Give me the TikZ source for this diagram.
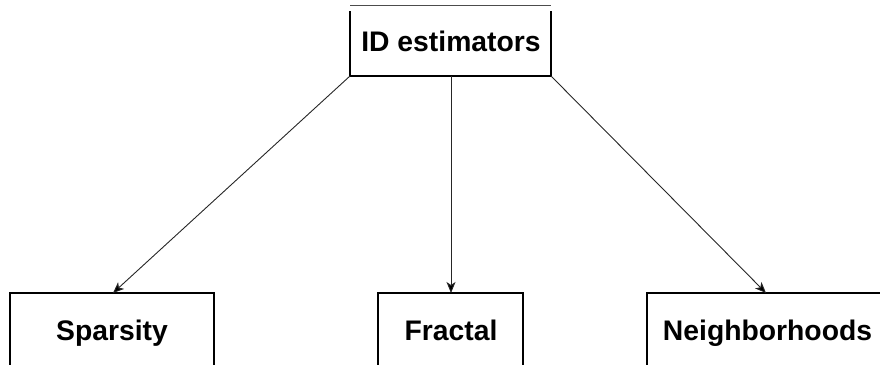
\documentclass[tikz,border=0pt]{standalone}
\usepackage{fontspec}
\setmainfont{Liberation Sans}
\usetikzlibrary{arrows.meta}
\begin{document}
\begin{tikzpicture}[x=1pt,y=-1pt,
  boxline/.style={draw=black,line width=1.1pt},
  lbl/.style={font=\fontsize{28.3}{34}\selectfont\bfseries,inner sep=0pt,anchor=base},
  conn/.style={draw=black!85,line width=0.9pt,-{Stealth[length=11pt,width=9pt,inset=3pt,fill=black]}}]
\useasboundingbox (0,0) rectangle (880,364);
\clip (0,0) rectangle (880,364);
% top box (drawn as separate edges)
\draw[boxline,draw=black!70] (350,5.5) -- (551,5.5);
\draw[boxline] (350,11) -- (350,76) -- (551,76) -- (551,11);
\node[lbl] (top) at (451,51.5) {ID estimators};
\coordinate (tl) at (350,76);
\coordinate (tm) at (451,76);
\coordinate (tr) at (551,76);
% bottom boxes
\draw[boxline] (10,370) -- (10,293) -- (214,293) -- (214,370);
\node[lbl] (sp) at (112,340) {Sparsity};
\draw[boxline] (378,370) -- (378,293) -- (523,293) -- (523,370);
\node[lbl] (fr) at (451,340) {Fractal};
\draw[boxline] (647,370) -- (647,293) -- (890,293);
\node[lbl] (ne) at (767.5,340) {Neighborhoods};
\coordinate (sptop) at (113,293);
\coordinate (frtop) at (451,293);
\coordinate (netop) at (766,293);
\draw[conn] (tl) -- (sptop);
\draw[conn] (tm) -- (frtop);
\draw[conn] (tr) -- (netop);
\end{tikzpicture}
\end{document}
